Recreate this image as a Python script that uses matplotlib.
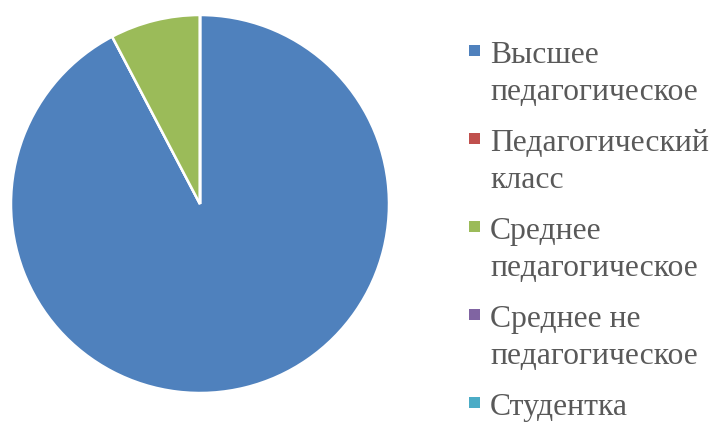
import matplotlib
matplotlib.use("Agg")
import matplotlib.pyplot as plt
from matplotlib.patches import Rectangle

# data
labels = [
    "Высшее\nпедагогическое",
    "Педагогический\nкласс",
    "Среднее\nпедагогическое",
    "Среднее не\nпедагогическое",
    "Студентка",
]
values = [12, 0, 1, 0, 0]
colors = ["#4F81BD", "#C0504D", "#9BBB59", "#8064A2", "#4BACC6"]

plt.rcParams["font.family"] = "serif"
plt.rcParams["font.serif"] = ["Liberation Serif", "Times New Roman", "DejaVu Serif"]

W, H = 713, 427
fig = plt.figure(figsize=(W / 100, H / 100), dpi=100)

# pie: centre (200, 205) px, radius 189 px
cx, cy, r = 200, 205, 189
ax = fig.add_axes([(cx - r) / W, (H - cy - r) / H, 2 * r / W, 2 * r / H])
ax.pie(values, colors=colors, startangle=90, counterclock=False,
       wedgeprops=dict(edgecolor="white", linewidth=1.8))
ax.set_xlim(-1, 1)
ax.set_ylim(-1, 1)
ax.set_aspect("equal")
ax.axis("off")

# legend drawn by hand: marker aligned with the first line of each label
for i, (lab, col) in enumerate(zip(labels, colors)):
    base = 63 + i * 88
    fig.patches.append(Rectangle((469 / W, (H - base + 6) / H), 11 / W, 11 / H,
                                 transform=fig.transFigure, facecolor=col,
                                 edgecolor="none"))
    for k, line in enumerate(lab.split("\n")):
        fig.text(490 / W, (H - base - 37 * k) / H, line, ha="left", va="baseline",
                 fontsize=22.8, color="#595959")

fig.savefig("out.png", dpi=100)
